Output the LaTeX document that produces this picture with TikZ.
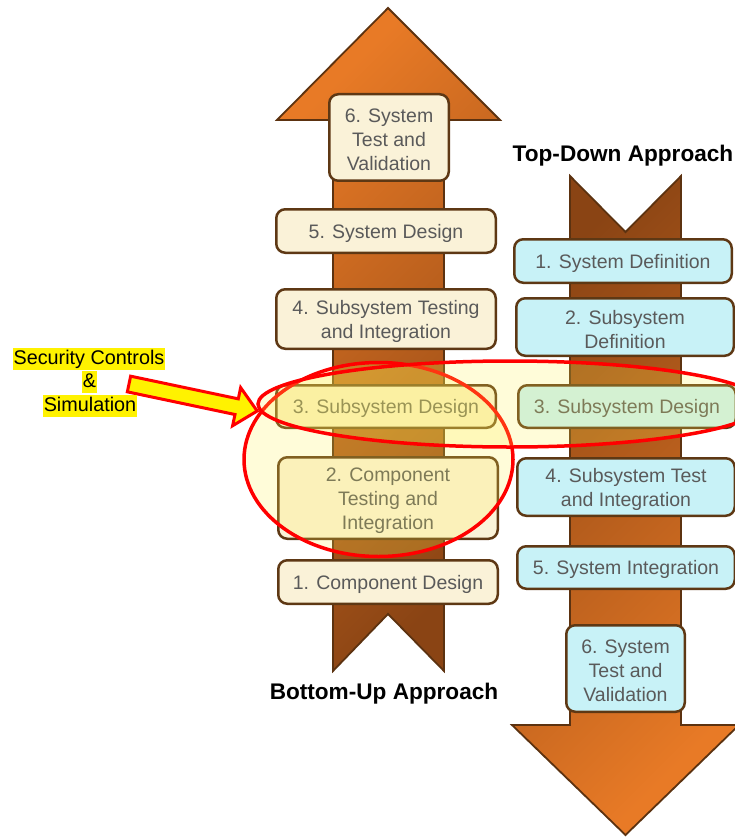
\documentclass[tikz,border=0pt]{standalone}
\usepackage{fontspec}
\setmainfont{Liberation Sans}
\definecolor{cream}{RGB}{250,242,216}
\definecolor{paleblue}{RGB}{200,242,247}
\definecolor{boxline}{RGB}{94,56,20}
\definecolor{arrowline}{RGB}{92,50,16}
\definecolor{textgray}{RGB}{90,90,90}
\definecolor{orangelight}{RGB}{232,122,38}
\definecolor{orangedark}{RGB}{138,68,20}
\definecolor{glow}{RGB}{255,240,80}
% zero-width strut that lowers box text a little
\newcommand{\lowertext}{\rule{0pt}{19pt}}
\begin{document}
\begin{tikzpicture}[x=1pt,y=-1pt,
  stagebox/.style={draw=boxline, line width=2.5pt, rounded corners=9pt,
    text=textgray, align=center, inner sep=0pt,
    font=\fontsize{19.5}{24}\selectfont},
  upbox/.style={stagebox, fill=cream},
  downbox/.style={stagebox, fill=paleblue},
  bigarrow/.style={draw=arrowline, line width=1.8pt, line join=miter},
  upshade/.style={bigarrow, shading=axis, top color=orangelight, bottom color=orangedark, shading angle=45},
  downshade/.style={bigarrow, shading=axis, top color=orangedark, bottom color=orangelight, shading angle=45},
  focus/.style={draw=red, line width=3.5pt, fill=glow, fill opacity=0.22},
  hl/.style={fill=yellow, inner xsep=1pt, inner ysep=0pt, text height=16.5pt,
    text depth=5.5pt, font=\fontsize{19.8}{24}\selectfont},
  heading/.style={anchor=base, font=\bfseries\fontsize{22.6}{26}\selectfont}
]
\useasboundingbox (0,0) rectangle (735,837);
\clip (0,0) rectangle (735,837);

% bottom-up arrow (pointing up)
\shade[upshade] (388,8) -- (500,120) -- (444,120) -- (444,671) -- (388,614)
  -- (333,671) -- (333,120) -- (277,120) -- cycle;

% top-down arrow (pointing down)
\shade[downshade] (570,176) -- (625.5,232) -- (681,176) -- (681,725) -- (739,725)
  -- (625.5,835) -- (512,725) -- (570,725) -- cycle;

% bottom-up stages
\node[upbox, minimum width=119.5pt, minimum height=86.5pt] (L6) at (389,137.5) {\lowertext 6. System\\Test and\\Validation};
\node[upbox, minimum width=219.5pt, minimum height=43.5pt] (L5) at (386,231) {\lowertext 5. System Design};
\node[upbox, minimum width=219.5pt, minimum height=59.5pt] (L4) at (386,319) {\lowertext 4. Subsystem Testing\\and Integration};
\node[upbox, minimum width=219.5pt, minimum height=42.5pt] (L3) at (386,406.5) {\lowertext 3. Subsystem Design};
\node[upbox, minimum width=219.5pt, minimum height=81.5pt] (L2) at (388,498) {\lowertext 2. Component\\Testing and\\Integration};
\node[upbox, minimum width=219.5pt, minimum height=43.5pt] (L1) at (388,582) {\lowertext 1. Component Design};

% top-down stages
\node[downbox, minimum width=217.5pt, minimum height=43.5pt] (R1) at (623,261) {\lowertext 1. System Definition};
\node[downbox, minimum width=217.5pt, minimum height=57.5pt] (R2) at (625,327) {\lowertext 2. Subsystem\\Definition};
\node[downbox, minimum width=217.5pt, minimum height=42.5pt] (R3) at (627,406.5) {\lowertext 3. Subsystem Design};
\node[downbox, minimum width=217.5pt, minimum height=57.5pt] (R4) at (626,487) {\lowertext 4. Subsystem Test\\and Integration};
\node[downbox, minimum width=217.5pt, minimum height=42.5pt] (R5) at (626,567.5) {\lowertext 5. System Integration};
\node[downbox, minimum width=118.5pt, minimum height=86.5pt] (R6) at (625.5,668.5) {\lowertext 6. System\\Test and\\Validation};

% highlighted focus areas
\path[focus] (378.5,459.5) ellipse [x radius=134.5pt, y radius=97pt];
\path[focus] (510,404) ellipse [x radius=252pt, y radius=43pt];

% pointer from the note
\begin{scope}[shift={(129,384)}, rotate=-11.9]
  \draw[draw=red, line width=3pt, fill=yellow, line join=miter]
    (0,-8) -- (110,-8) -- (110,-19.5) -- (131,0) -- (110,19.5) -- (110,8) -- (0,8) -- cycle;
\end{scope}

\node[hl] (sec1) at (89,358.5) {Security Controls};
\node[hl] (sec2) at (89.5,381.5) {\&};
\node[hl] (sec3) at (90,405.5) {Simulation};

\node[heading] (td) at (623,162) {Top-Down Approach};
\node[heading] (bu) at (384,699) {Bottom-Up Approach};
\end{tikzpicture}
\end{document}
